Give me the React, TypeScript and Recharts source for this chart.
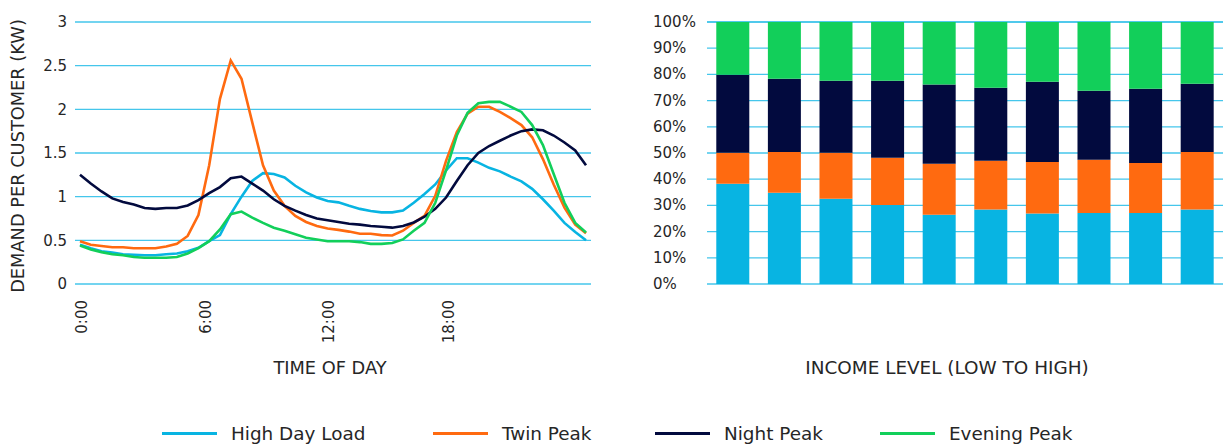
import React from 'react';
import { LineChart, Line, XAxis, YAxis, CartesianGrid, BarChart, Bar, Label } from 'recharts';

// Half-hourly demand profiles (kW per customer), 48 points from 0:00
const HIGH_DAY_LOAD = [
  0.45, 0.41, 0.375, 0.36, 0.34, 0.335, 0.33, 0.33, 0.34, 0.35,
  0.375, 0.415, 0.49, 0.56, 0.8, 1.0, 1.18, 1.27, 1.26, 1.22,
  1.125, 1.05, 0.99, 0.95, 0.935, 0.895, 0.86, 0.835, 0.82, 0.82,
  0.84, 0.93, 1.03, 1.14, 1.3, 1.44, 1.44, 1.39, 1.33, 1.29,
  1.23, 1.175, 1.09, 0.97, 0.84, 0.7, 0.595, 0.5,
];
const TWIN_PEAK = [
  0.49, 0.45, 0.435, 0.42, 0.42, 0.41, 0.41, 0.41, 0.43, 0.46,
  0.55, 0.79, 1.36, 2.12, 2.56, 2.35, 1.85, 1.36, 1.07, 0.895,
  0.78, 0.71, 0.665, 0.635, 0.62, 0.6, 0.575, 0.575, 0.56, 0.555,
  0.61, 0.7, 0.78, 1.01, 1.41, 1.74, 1.95, 2.03, 2.03, 1.97,
  1.9, 1.82, 1.68, 1.43, 1.14, 0.875, 0.68, 0.58,
];
const NIGHT_PEAK = [
  1.25, 1.15, 1.06, 0.98, 0.94, 0.91, 0.87, 0.86, 0.87, 0.87,
  0.9, 0.96, 1.04, 1.11, 1.21, 1.23, 1.15, 1.07, 0.97, 0.895,
  0.84, 0.79, 0.75, 0.73, 0.71, 0.69, 0.68, 0.665, 0.655, 0.645,
  0.665, 0.705, 0.77, 0.86, 0.99, 1.18, 1.36, 1.5, 1.58, 1.64,
  1.7, 1.75, 1.77, 1.76, 1.7, 1.62, 1.53, 1.36,
];
const EVENING_PEAK = [
  0.44, 0.395, 0.365, 0.34, 0.33, 0.31, 0.3, 0.3, 0.3, 0.31,
  0.35, 0.41, 0.49, 0.625, 0.8, 0.83, 0.76, 0.7, 0.645, 0.61,
  0.57, 0.53, 0.51, 0.49, 0.49, 0.49, 0.48, 0.46, 0.46, 0.47,
  0.51, 0.61, 0.7, 0.93, 1.3, 1.7, 1.96, 2.07, 2.085, 2.085,
  2.03, 1.97, 1.82, 1.59, 1.26, 0.93, 0.7, 0.59,
];

const TIME_TICK_LABELS = ['0:00', '6:00', '12:00', '18:00'];
const TIME_TICK_INDEX = [0.2, 11.7, 23.1, 34.3];
const DEMAND_TICKS = [0, 0.5, 1, 1.5, 2, 2.5, 3];

// Share of customers per profile, by income decile (percent)
const INCOME_LEVELS = ['1', '2', '3', '4', '5', '6', '7', '8', '9', '10'];
const SHARE_HIGH_DAY_LOAD = [38.3, 34.8, 32.5, 30.2, 26.4, 28.4, 26.9, 27.1, 27.1, 28.4];
const SHARE_TWIN_PEAK = [11.8, 15.6, 17.6, 18.0, 19.5, 18.6, 19.7, 20.3, 19.1, 22.0];
const SHARE_NIGHT_PEAK = [29.8, 27.9, 27.5, 29.4, 30.2, 27.9, 30.6, 26.4, 28.3, 26.0];
const SHARE_EVENING_PEAK = [20.1, 21.7, 22.4, 22.4, 23.9, 25.1, 22.8, 26.2, 25.5, 23.6];
const PCT_TICKS = [0, 10, 20, 30, 40, 50, 60, 70, 80, 90, 100];

const SERIES = [
  { key: 'hdl', name: 'High Day Load', color: '#08B4E2' },
  { key: 'twin', name: 'Twin Peak', color: '#FF6A10' },
  { key: 'night', name: 'Night Peak', color: '#020A3E' },
  { key: 'evening', name: 'Evening Peak', color: '#12CF5A' },
];

const FONT = "'DejaVu Sans', sans-serif";
const TEXT = '#262626';
const GRID = '#45C6EB';

const lineData = HIGH_DAY_LOAD.map((v, i) => ({
  i,
  hdl: v,
  twin: TWIN_PEAK[i],
  night: NIGHT_PEAK[i],
  evening: EVENING_PEAK[i],
}));

const barData = INCOME_LEVELS.map((name, k) => ({
  name,
  hdl: SHARE_HIGH_DAY_LOAD[k],
  twin: SHARE_TWIN_PEAK[k],
  night: SHARE_NIGHT_PEAK[k],
  evening: SHARE_EVENING_PEAK[k],
}));

const TimeTick = (props: any) => {
  const { x, y, payload } = props;
  const idx = TIME_TICK_INDEX.indexOf(payload.value);
  const ty = y + 8;
  return (
    <text
      x={x}
      y={ty}
      transform={`rotate(-90 ${x} ${ty})`}
      textAnchor="end"
      dominantBaseline="central"
      fontFamily={FONT}
      fontSize={15}
      fill={TEXT}
    >
      {TIME_TICK_LABELS[idx]}
    </text>
  );
};

const PctTick = (props: any) => {
  const { x, y, payload } = props;
  return (
    <text x={x - 46} y={y} textAnchor="start" dominantBaseline="central" fontFamily={FONT} fontSize={15} fill={TEXT}>
      {`${payload.value}%`}
    </text>
  );
};

const YTitle = (props: any) => {
  const vb = props.viewBox;
  const x = vb.x + 17;
  const y = vb.y + vb.height / 2 + 3;
  return (
    <text x={x} y={y} transform={`rotate(-90 ${x} ${y})`} textAnchor="middle" dominantBaseline="central" fontFamily={FONT} fontSize={17.8} fill={TEXT}>
      DEMAND PER CUSTOMER (KW)
    </text>
  );
};

const XTitle = (text: string, dx: number, size: number) => (props: any) => {
  const vb = props.viewBox;
  return (
    <text x={vb.x + vb.width / 2 + dx} y={367} textAnchor="middle" dominantBaseline="central" fontFamily={FONT} fontSize={size} fill={TEXT}>
      {text}
    </text>
  );
};

const LEGEND_X = [162, 433, 655, 880];

export default function App() {
  return (
    <div style={{ position: 'absolute', left: 0, top: 0, width: 1223, height: 445, background: '#fff', fontFamily: FONT }}>
      <div style={{ position: 'absolute', left: 0, top: 0 }}>
        <LineChart width={600} height={445} data={lineData} margin={{ top: 22, right: 9, bottom: 66, left: 0 }}>
          <CartesianGrid vertical={false} stroke={GRID} strokeWidth={1.3} />
          <XAxis
            dataKey="i"
            type="number"
            domain={[0, 47]}
            ticks={TIME_TICK_INDEX}
            tick={<TimeTick />}
            axisLine={false}
            tickLine={false}
            height={95}
            interval={0}
            padding={{ left: 5, right: 5 }}
          >
            <Label content={XTitle('TIME OF DAY', -3, 17.8)} />
          </XAxis>
          <YAxis
            domain={[0, 3]}
            ticks={DEMAND_TICKS}
            width={75}
            axisLine={false}
            tickLine={false}
            tick={{ fontFamily: FONT, fontSize: 15, fill: TEXT }}
          >
            <Label content={<YTitle />} />
          </YAxis>
          {SERIES.map((s) => (
            <Line
              key={s.key}
              type="linear"
              dataKey={s.key}
              name={s.name}
              stroke={s.color}
              strokeWidth={2.6}
              dot={false}
              isAnimationActive={false}
            />
          ))}
        </LineChart>
      </div>
      <div style={{ position: 'absolute', left: 600, top: 0 }}>
        <BarChart width={623} height={445} data={barData} margin={{ top: 22, right: 0, bottom: 71, left: 0 }} barCategoryGap="18%">
          <CartesianGrid vertical={false} stroke={GRID} strokeWidth={1.3} />
          <XAxis dataKey="name" tick={false} axisLine={false} tickLine={false} height={90}>
            <Label content={XTitle('INCOME LEVEL (LOW TO HIGH)', -18, 18.4)} />
          </XAxis>
          <YAxis domain={[0, 100]} ticks={PCT_TICKS} width={107} axisLine={false} tickLine={false} tick={<PctTick />} />
          {SERIES.map((s) => (
            <Bar key={s.key} dataKey={s.key} name={s.name} stackId="share" fill={s.color} isAnimationActive={false} />
          ))}
        </BarChart>
      </div>
      {SERIES.map((s, k) => (
        <div key={s.key} style={{ position: 'absolute', left: LEGEND_X[k], top: 422, height: 22, display: 'flex', alignItems: 'center' }}>
          <div style={{ width: 55, height: 3, background: s.color, marginRight: 14 }} />
          <span style={{ fontSize: 18.4, color: TEXT, whiteSpace: 'nowrap' }}>{s.name}</span>
        </div>
      ))}
    </div>
  );
}
